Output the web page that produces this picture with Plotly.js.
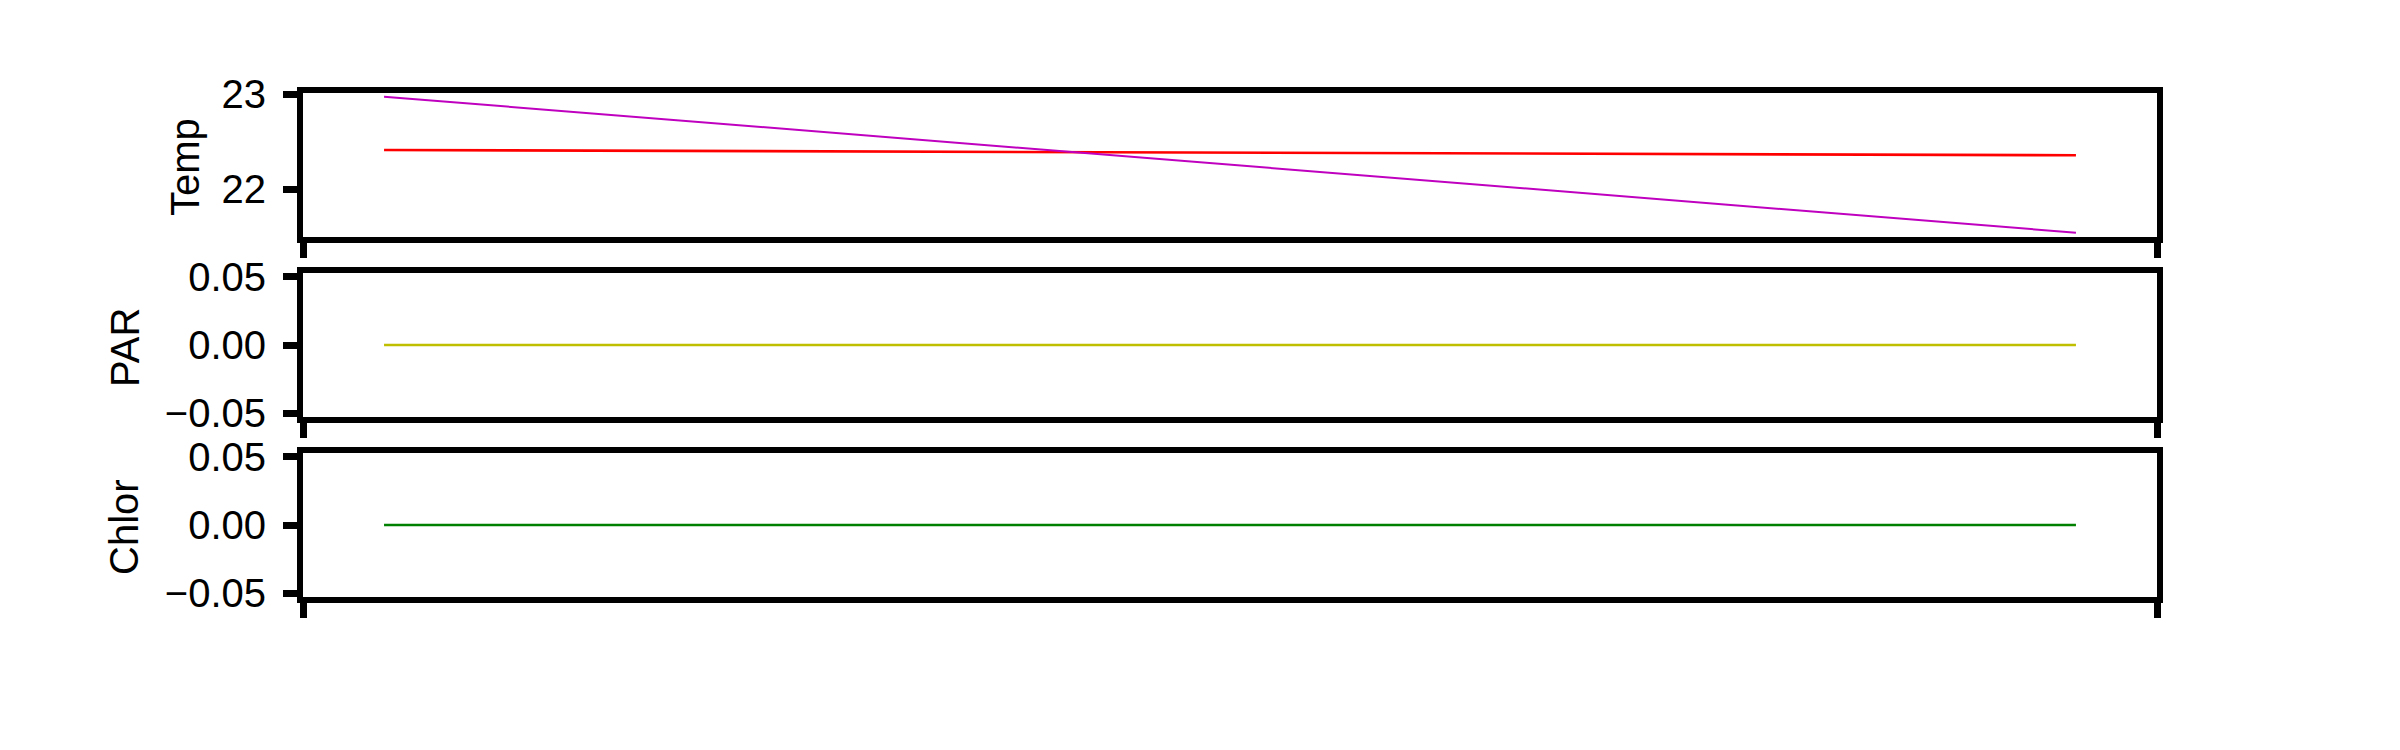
<!DOCTYPE html>
<html>
<head>
<meta charset="utf-8">
<script src="https://cdn.plot.ly/plotly-3.0.1.min.js"></script>
<style>html,body{margin:0;padding:0;background:#fff;}</style>
</head>
<body>
<div id="chart" style="width:2400px;height:750px;"></div>
<script>
// ---- data ----
const timeIndex = [0, 1];
const tempA = [22.414, 22.358];   // red
const tempB = [22.975, 21.543];   // magenta
const par = [0.0, 0.0];
const chlor = [0.0, 0.0];
const panelLabels = ["Temp", "PAR", "Chlor"];
const tempTicks = [22, 23];
const zeroTicks = [-0.05, 0.0, 0.05];

const W = 2400, H = 750;
const FONT = "Liberation Sans, Arial, sans-serif";
const FS = 40;
const px = v => v / W;
const py = v => 1 - v / H;

const traces = [
  {x: timeIndex, y: tempA, mode: "lines", line: {color: "#ff0000", width: 2.6}, xaxis: "x", yaxis: "y"},
  {x: timeIndex, y: tempB, mode: "lines", line: {color: "#bf00bf", width: 2}, xaxis: "x", yaxis: "y"},
  {x: timeIndex, y: par, mode: "lines", line: {color: "#bfbf00", width: 2.6}, xaxis: "x2", yaxis: "y2"},
  {x: timeIndex, y: chlor, mode: "lines", line: {color: "#008000", width: 2.6}, xaxis: "x3", yaxis: "y3"}
];

const xr = [-0.0479, 1.0479];
const xDomain = [px(303), px(2157)];

function xAxis(anchor) {
  return {
    domain: xDomain, range: xr, anchor: anchor,
    showline: true, linewidth: 6, linecolor: "#000", mirror: true,
    ticks: "outside", ticklen: 15, tickwidth: 7, tickcolor: "#000",
    tickmode: "array", tickvals: xr, showticklabels: false,
    showgrid: false, zeroline: false, fixedrange: true
  };
}
function yAxis(anchor, domain, range, tickvals, fmt) {
  return {
    domain: domain, range: range, anchor: anchor,
    showline: true, linewidth: 6, linecolor: "#000", mirror: true,
    ticks: "outside", ticklen: 14, tickwidth: 7, tickcolor: "#000",
    tickmode: "array", tickvals: tickvals, tickformat: fmt,
    ticklabelstandoff: 9,
    tickfont: {family: FONT, size: FS, color: "#000"},
    showgrid: false, zeroline: false, automargin: false, fixedrange: true
  };
}

const ann = (t, x, y) => ({text: t, xref: "paper", yref: "paper", x: px(x), y: py(y), textangle: -90,
  showarrow: false, xanchor: "center", yanchor: "middle", font: {family: FONT, size: FS, color: "#000"}});

const layout = {
  width: W, height: H,
  margin: {l: 0, r: 0, t: 0, b: 0},
  paper_bgcolor: "#fff", plot_bgcolor: "#fff",
  showlegend: false,
  font: {family: FONT, size: FS, color: "#000"},
  xaxis: xAxis("y"),
  xaxis2: xAxis("y2"),
  xaxis3: xAxis("y3"),
  yaxis: yAxis("x", [py(237), py(93)], [21.498, 23.0137], tempTicks, "d"),
  yaxis2: yAxis("x2", [py(417), py(273)], [-0.0528, 0.0528], zeroTicks, ".2f"),
  yaxis3: yAxis("x3", [py(597), py(453)], [-0.0528, 0.0528], zeroTicks, ".2f"),
  annotations: [
    ann(panelLabels[0], 185, 167),
    ann(panelLabels[1], 125, 348),
    ann(panelLabels[2], 124, 527)
  ]
};

Plotly.newPlot("chart", traces, layout, {staticPlot: true, displayModeBar: false});
</script>
</body>
</html>
